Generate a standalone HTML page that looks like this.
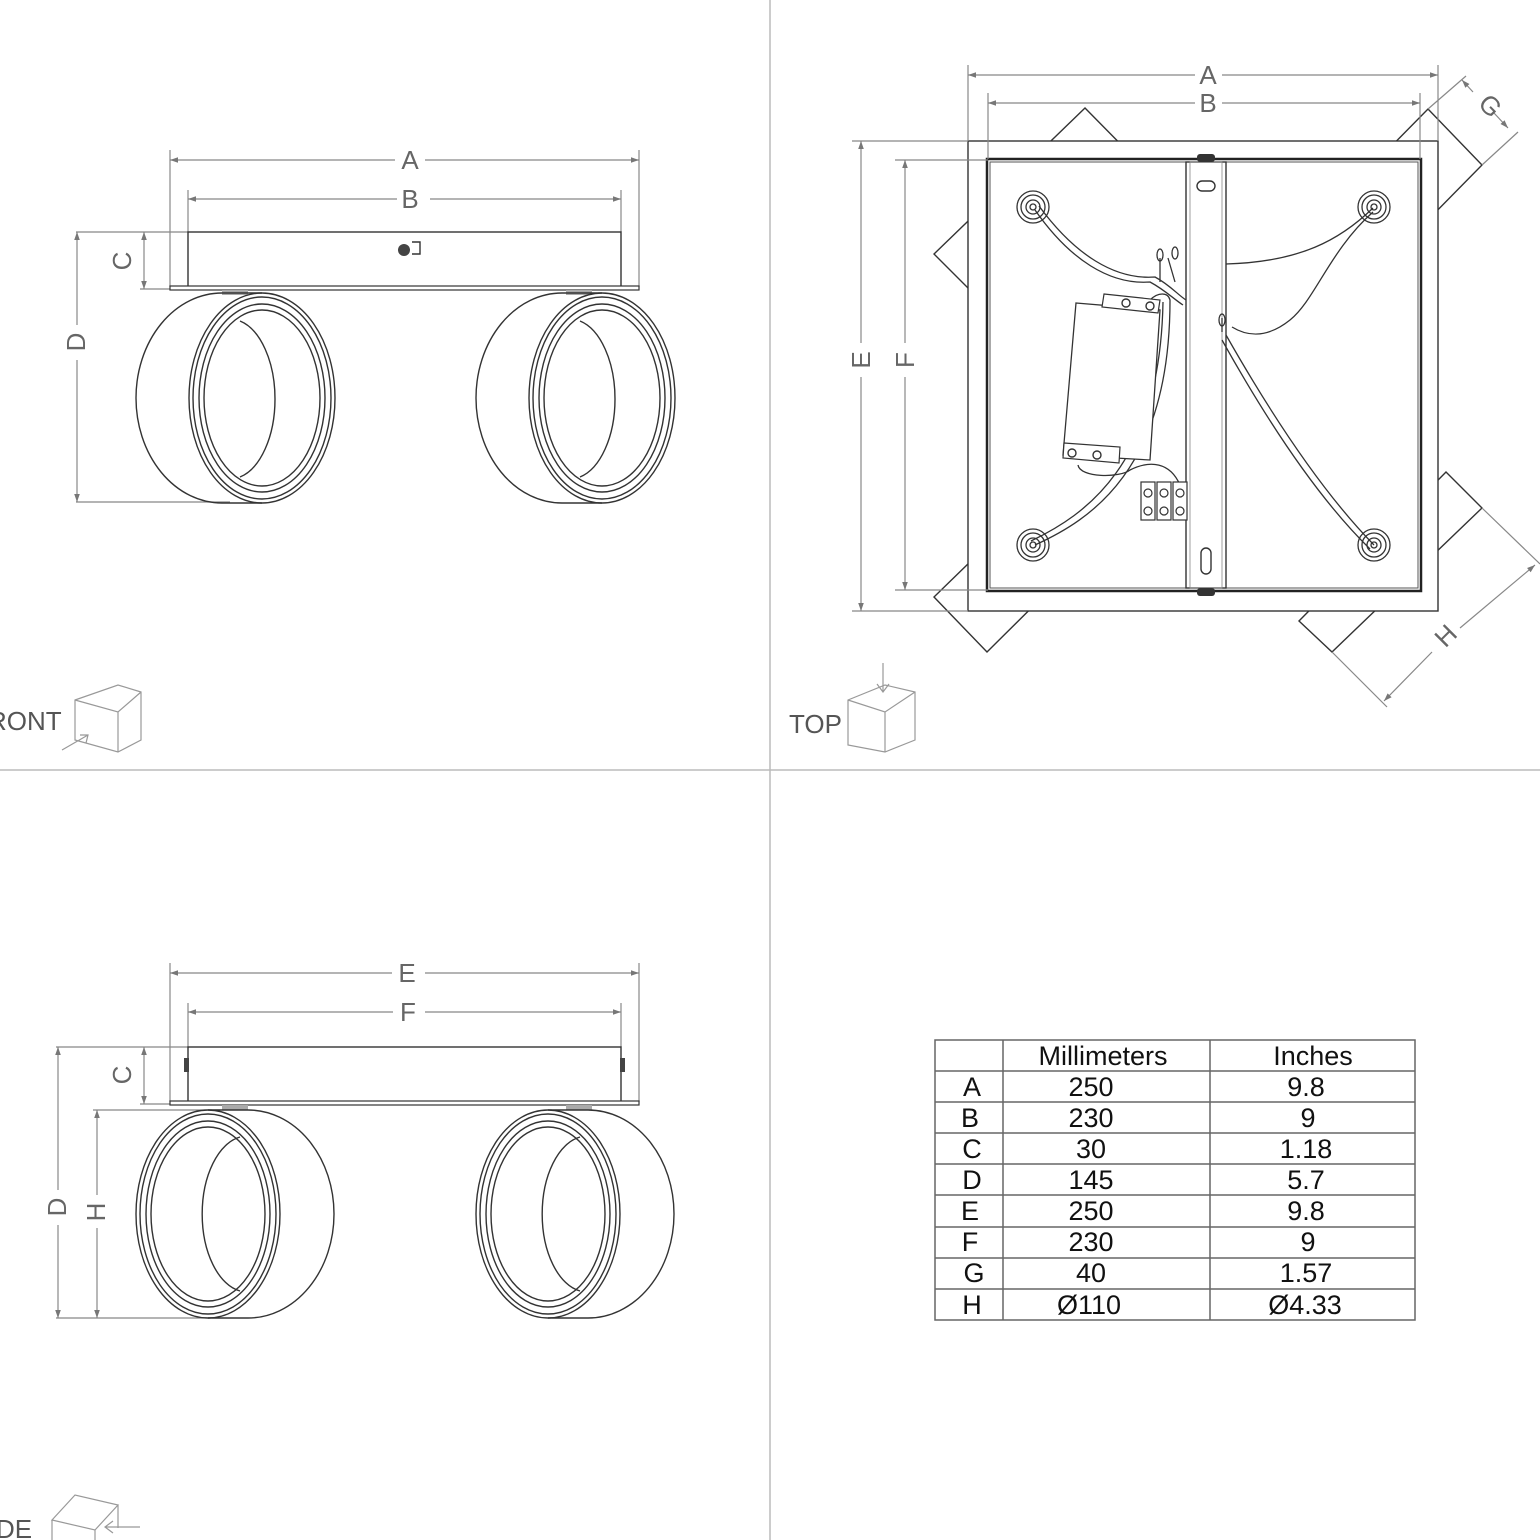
<!DOCTYPE html>
<html><head><meta charset="utf-8"><style>
html,body{margin:0;padding:0;background:#fff}
svg{display:block}
.d{stroke:#888;stroke-width:1.2;fill:none}
.o{stroke:#333;stroke-width:1.4;fill:none}
.l{font-family:"Liberation Sans",sans-serif;font-size:26px;fill:#666}
.t{font-family:"Liberation Sans",sans-serif;font-size:27px;fill:#111;text-anchor:middle}
</style></head><body>
<svg width="1540" height="1540" viewBox="0 0 1540 1540" xmlns="http://www.w3.org/2000/svg">
<defs>
<marker id="a" viewBox="0 0 10 10" refX="10" refY="5" markerWidth="14" markerHeight="8" orient="auto-start-reverse" markerUnits="userSpaceOnUse"><path d="M0,1.5L10,5L0,8.5z" fill="#777"/></marker>
</defs>
<rect width="1540" height="1540" fill="#fff"/>
<line x1="770" y1="0" x2="770" y2="1540" stroke="#bbb" stroke-width="1.5"/>
<line x1="0" y1="770" x2="1540" y2="770" stroke="#bbb" stroke-width="1.5"/>

<!-- FRONT VIEW -->
<g>
<line class="d" x1="170" y1="150" x2="170" y2="287"/><line class="d" x1="639" y1="150" x2="639" y2="287"/>
<line class="d" x1="188" y1="190" x2="188" y2="232"/><line class="d" x1="621" y1="190" x2="621" y2="232"/>
<line class="d" x1="170" y1="160" x2="395" y2="160" marker-start="url(#a)"/><line class="d" x1="425" y1="160" x2="639" y2="160" marker-end="url(#a)"/>
<text class="l" x="410" y="169" text-anchor="middle">A</text>
<line class="d" x1="188" y1="199" x2="397" y2="199" marker-start="url(#a)"/><line class="d" x1="430" y1="199" x2="621" y2="199" marker-end="url(#a)"/>
<text class="l" x="410" y="208" text-anchor="middle">B</text>
<line class="d" x1="76" y1="232" x2="188" y2="232"/><line class="d" x1="140" y1="289" x2="170" y2="289"/><line class="d" x1="76" y1="502" x2="230" y2="502"/>
<line class="d" x1="144" y1="232" x2="144" y2="289" marker-start="url(#a)" marker-end="url(#a)"/>
<text class="l" transform="translate(131,261) rotate(-90)" text-anchor="middle">C</text>
<line class="d" x1="77" y1="232" x2="77" y2="325" marker-start="url(#a)"/><line class="d" x1="77" y1="360" x2="77" y2="502" marker-end="url(#a)"/>
<text class="l" transform="translate(85,342) rotate(-90)" text-anchor="middle">D</text>
<rect class="o" x="188" y="232" width="433" height="55"/>
<rect x="170" y="286" width="469" height="4" fill="#fff" stroke="#333" stroke-width="1.2"/>
<circle cx="404" cy="250" r="6" fill="#444"/><path class="o" d="M412,242h8v12h-8" stroke-width="1"/>
<rect x="222" y="290" width="26" height="5" fill="#aaa"/><rect x="566" y="290" width="26" height="5" fill="#aaa"/>
<g id="r1">
<path class="o" d="M262,293 L222,293 A86,105 0 0 0 222,503 L262,503"/>
<ellipse class="o" cx="262" cy="398" rx="73" ry="105"/>
<ellipse class="o" cx="262" cy="398" rx="69" ry="101"/>
<ellipse class="o" cx="262" cy="398" rx="63" ry="94"/>
<ellipse class="o" cx="262" cy="398" rx="58" ry="88"/>
<path class="o" d="M240,321 A45,80 0 0 1 240,477"/>
</g>
<use href="#r1" x="340"/>
</g>

<!-- SIDE VIEW -->
<g>
<line class="d" x1="170" y1="963" x2="170" y2="1102"/><line class="d" x1="639" y1="963" x2="639" y2="1102"/>
<line class="d" x1="188" y1="1003" x2="188" y2="1047"/><line class="d" x1="621" y1="1003" x2="621" y2="1047"/>
<line class="d" x1="170" y1="973" x2="392" y2="973" marker-start="url(#a)"/><line class="d" x1="425" y1="973" x2="639" y2="973" marker-end="url(#a)"/>
<text class="l" x="407" y="982" text-anchor="middle">E</text>
<line class="d" x1="188" y1="1012" x2="393" y2="1012" marker-start="url(#a)"/><line class="d" x1="425" y1="1012" x2="621" y2="1012" marker-end="url(#a)"/>
<text class="l" x="408" y="1021" text-anchor="middle">F</text>
<line class="d" x1="56" y1="1047" x2="188" y2="1047"/><line class="d" x1="140" y1="1104" x2="170" y2="1104"/>
<line class="d" x1="93" y1="1110" x2="220" y2="1110"/><line class="d" x1="56" y1="1318" x2="210" y2="1318"/>
<line class="d" x1="144" y1="1047" x2="144" y2="1104" marker-start="url(#a)" marker-end="url(#a)"/>
<text class="l" transform="translate(131,1075) rotate(-90)" text-anchor="middle">C</text>
<line class="d" x1="58" y1="1047" x2="58" y2="1190" marker-start="url(#a)"/><line class="d" x1="58" y1="1225" x2="58" y2="1318" marker-end="url(#a)"/>
<text class="l" transform="translate(66,1207) rotate(-90)" text-anchor="middle">D</text>
<line class="d" x1="97" y1="1110" x2="97" y2="1195" marker-start="url(#a)"/><line class="d" x1="97" y1="1228" x2="97" y2="1318" marker-end="url(#a)"/>
<text class="l" transform="translate(105,1212) rotate(-90)" text-anchor="middle">H</text>
<rect class="o" x="188" y="1047" width="433" height="55"/>
<rect x="170" y="1101" width="469" height="4" fill="#fff" stroke="#333" stroke-width="1.2"/>
<rect x="184" y="1058" width="5" height="14" fill="#444"/><rect x="620" y="1058" width="5" height="14" fill="#444"/>
<rect x="222" y="1105" width="26" height="5" fill="#aaa"/><rect x="566" y="1105" width="26" height="5" fill="#aaa"/>
<g id="r2">
<path class="o" d="M208,1110 L248,1110 A86,104 0 0 1 248,1318 L208,1318"/>
<ellipse class="o" cx="208" cy="1214" rx="72" ry="104"/>
<ellipse class="o" cx="208" cy="1214" rx="68" ry="100"/>
<ellipse class="o" cx="208" cy="1214" rx="62" ry="93"/>
<ellipse class="o" cx="208" cy="1214" rx="57" ry="87"/>
<path class="o" d="M240,1137 A45,78 0 0 0 240,1291"/>
</g>
<use href="#r2" x="340"/>
</g>

<!-- TOP VIEW -->
<g>
<polygon class="o" fill="#fff" points="1085,108 934,254 1070,390 1220,245"/>
<polygon class="o" fill="#fff" points="934,597 987,652 1130,510 1080,455"/>
<polygon class="o" fill="#fff" points="1428,109 1482,165 1300,350 1250,290"/>
<polygon class="o" fill="#fff" points="1446,472 1482,508 1332,652 1299,621"/>
<rect x="968" y="141" width="470" height="470" fill="#fff" stroke="#333" stroke-width="1.4"/>
<rect x="987" y="159" width="434" height="432" fill="none" stroke="#222" stroke-width="2.5"/>
<rect x="990" y="162" width="428" height="426" fill="none" stroke="#555" stroke-width="1"/>
<!-- dims -->
<line class="d" x1="968" y1="65" x2="968" y2="141"/><line class="d" x1="1438" y1="65" x2="1438" y2="141"/>
<line class="d" x1="988" y1="93" x2="988" y2="159"/><line class="d" x1="1420" y1="93" x2="1420" y2="159"/>
<line class="d" x1="968" y1="75" x2="1195" y2="75" marker-start="url(#a)"/><line class="d" x1="1222" y1="75" x2="1438" y2="75" marker-end="url(#a)"/>
<text class="l" x="1208" y="84" text-anchor="middle">A</text>
<line class="d" x1="988" y1="103" x2="1195" y2="103" marker-start="url(#a)"/><line class="d" x1="1222" y1="103" x2="1420" y2="103" marker-end="url(#a)"/>
<text class="l" x="1208" y="112" text-anchor="middle">B</text>
<line class="d" x1="852" y1="141" x2="968" y2="141"/><line class="d" x1="852" y1="611" x2="968" y2="611"/>
<line class="d" x1="895" y1="160" x2="988" y2="160"/><line class="d" x1="895" y1="590" x2="988" y2="590"/>
<line class="d" x1="861" y1="141" x2="861" y2="343" marker-start="url(#a)"/><line class="d" x1="861" y1="377" x2="861" y2="611" marker-end="url(#a)"/>
<text class="l" transform="translate(870,360) rotate(-90)" text-anchor="middle">E</text>
<line class="d" x1="905" y1="160" x2="905" y2="343" marker-start="url(#a)"/><line class="d" x1="905" y1="377" x2="905" y2="590" marker-end="url(#a)"/>
<text class="l" transform="translate(914,360) rotate(-90)" text-anchor="middle">F</text>
<line class="d" x1="1428" y1="109" x2="1466" y2="76"/><line class="d" x1="1482" y1="165" x2="1518" y2="132"/>
<line class="d" x1="1462" y1="80" x2="1473" y2="92" marker-start="url(#a)"/><line class="d" x1="1494" y1="113" x2="1508" y2="128" marker-end="url(#a)"/>
<text class="l" transform="translate(1484,112) rotate(45)" text-anchor="middle">G</text>
<line class="d" x1="1482" y1="508" x2="1540" y2="564"/><line class="d" x1="1332" y1="652" x2="1387" y2="707"/>
<line class="d" x1="1535" y1="565" x2="1460" y2="628" marker-start="url(#a)"/><line class="d" x1="1432" y1="652" x2="1384" y2="701" marker-end="url(#a)"/>
<text class="l" transform="translate(1452,642) rotate(-45)" text-anchor="middle">H</text>
<!-- bracket -->
<rect x="1186" y="162" width="40" height="426" fill="#fff" stroke="#333" stroke-width="1.4"/>
<rect x="1190" y="162" width="32" height="426" fill="none" stroke="#888" stroke-width="0.8"/>
<rect x="1197" y="181" width="18" height="10" rx="5" class="o"/>
<rect x="1201" y="548" width="10" height="26" rx="5" class="o"/>
<rect x="1197" y="154" width="18" height="8" rx="3" fill="#333"/><rect x="1197" y="588" width="18" height="8" rx="3" fill="#333"/>
<!-- lamps -->
<g id="lp" fill="none" stroke="#333" stroke-width="1.3"><circle cx="1033" cy="207" r="16"/><circle cx="1033" cy="207" r="12"/><circle cx="1033" cy="207" r="7"/><circle cx="1033" cy="207" r="3"/></g>
<use href="#lp" x="341"/><use href="#lp" y="338"/><use href="#lp" x="341" y="338"/>
<!-- wires -->
<g fill="none" stroke="#333" stroke-width="1.3">
<path d="M1035,210 C1070,260 1110,285 1150,282 C1165,290 1175,300 1183,305"/>
<path d="M1039,206 C1075,255 1115,280 1155,277 C1170,285 1178,295 1186,300"/>
<path d="M1373,208 C1340,240 1300,262 1226,264"/>
<path d="M1373,212 C1330,250 1315,300 1290,320 C1265,340 1245,335 1232,327"/>
<path d="M1374,545 C1330,500 1280,430 1226,335"/>
<path d="M1370,549 C1325,505 1275,435 1222,340"/>
<path d="M1035,545 C1090,520 1170,470 1170,300 C1168,292 1158,292 1150,300"/>
<path d="M1031,541 C1085,515 1160,465 1163,302"/>
<path d="M1078,465 C1080,478 1120,478 1130,470 C1150,460 1170,462 1180,485"/>
<path d="M1160,258 L1160,282 M1168,258 L1175,282 M1222,318 L1222,332"/>
<ellipse cx="1160" cy="255" rx="3" ry="6"/><ellipse cx="1175" cy="253" rx="3" ry="6"/><ellipse cx="1222" cy="320" rx="3" ry="6"/>
</g>
<!-- driver -->
<polygon points="1076,303 1160,310 1150,460 1063,455" fill="#fff" stroke="#333" stroke-width="1.3"/>
<polygon points="1104,294 1160,300 1158,313 1102,307" fill="#fff" stroke="#333" stroke-width="1.2"/>
<polygon points="1064,443 1120,447 1119,463 1063,458" fill="#fff" stroke="#333" stroke-width="1.2"/>
<circle cx="1126" cy="303" r="4" class="o"/><circle cx="1150" cy="306" r="4" class="o"/>
<circle cx="1072" cy="453" r="4" class="o"/><circle cx="1097" cy="455" r="4" class="o"/>
<!-- terminal block -->
<g fill="#fff" stroke="#333" stroke-width="1.2">
<rect x="1141" y="482" width="14" height="38"/><rect x="1157" y="482" width="14" height="38"/><rect x="1173" y="482" width="14" height="38"/>
<circle cx="1148" cy="493" r="4"/><circle cx="1164" cy="493" r="4"/><circle cx="1180" cy="493" r="4"/>
<circle cx="1148" cy="511" r="4"/><circle cx="1164" cy="511" r="4"/><circle cx="1180" cy="511" r="4"/>
</g>
</g>

<!-- view cubes -->
<g fill="none" stroke="#999" stroke-width="1.2">
<path d="M75,700 L118,685 L141,692 L141,740 L118,752 L75,740 Z M75,700 L118,712 L141,692 M118,712 L118,752"/>
<path d="M62,750 L88,735 M80,735 L88,735 L86,743"/>
<path d="M848,700 L885,685 L915,692 L915,740 L885,752 L848,745 Z M848,700 L885,712 L915,692 M885,712 L885,752"/>
<path d="M883,663 L883,692 M877,684 L883,692 L889,684"/>
<path d="M52,1520 L75,1495 L118,1505 L95,1530 Z M52,1520 L52,1540 M95,1530 L95,1540 M118,1505 L118,1528"/>
<path d="M105,1527 L140,1527 M113,1521 L105,1527 L113,1533"/>
</g>
<text class="l" x="-12" y="730" style="fill:#555">RONT</text>
<text class="l" x="789" y="733" style="fill:#555">TOP</text>
<text class="l" x="-4" y="1538" style="fill:#555">DE</text>

<!-- TABLE -->
<g stroke="#666" stroke-width="1.5" fill="none">
<rect x="935" y="1040" width="480" height="280"/>
<line x1="1003" y1="1040" x2="1003" y2="1320"/><line x1="1210" y1="1040" x2="1210" y2="1320"/>
<line x1="935" y1="1071" x2="1415" y2="1071"/><line x1="935" y1="1102" x2="1415" y2="1102"/>
<line x1="935" y1="1133" x2="1415" y2="1133"/><line x1="935" y1="1164" x2="1415" y2="1164"/>
<line x1="935" y1="1195" x2="1415" y2="1195"/><line x1="935" y1="1227" x2="1415" y2="1227"/>
<line x1="935" y1="1258" x2="1415" y2="1258"/><line x1="935" y1="1289" x2="1415" y2="1289"/>
</g>
<text class="t" x="1103" y="1065">Millimeters</text><text class="t" x="1313" y="1065">Inches</text>
<text class="t" x="972" y="1096">A</text><text class="t" x="1091" y="1096">250</text><text class="t" x="1306" y="1096">9.8</text>
<text class="t" x="970" y="1127">B</text><text class="t" x="1091" y="1127">230</text><text class="t" x="1308" y="1127">9</text>
<text class="t" x="972" y="1158">C</text><text class="t" x="1091" y="1158">30</text><text class="t" x="1306" y="1158">1.18</text>
<text class="t" x="972" y="1189">D</text><text class="t" x="1091" y="1189">145</text><text class="t" x="1306" y="1189">5.7</text>
<text class="t" x="970" y="1220">E</text><text class="t" x="1091" y="1220">250</text><text class="t" x="1306" y="1220">9.8</text>
<text class="t" x="970" y="1251">F</text><text class="t" x="1091" y="1251">230</text><text class="t" x="1308" y="1251">9</text>
<text class="t" x="974" y="1282">G</text><text class="t" x="1091" y="1282">40</text><text class="t" x="1306" y="1282">1.57</text>
<text class="t" x="972" y="1314">H</text><text class="t" x="1089" y="1314">Ø110</text><text class="t" x="1305" y="1314">Ø4.33</text>
</svg>
</body></html>
